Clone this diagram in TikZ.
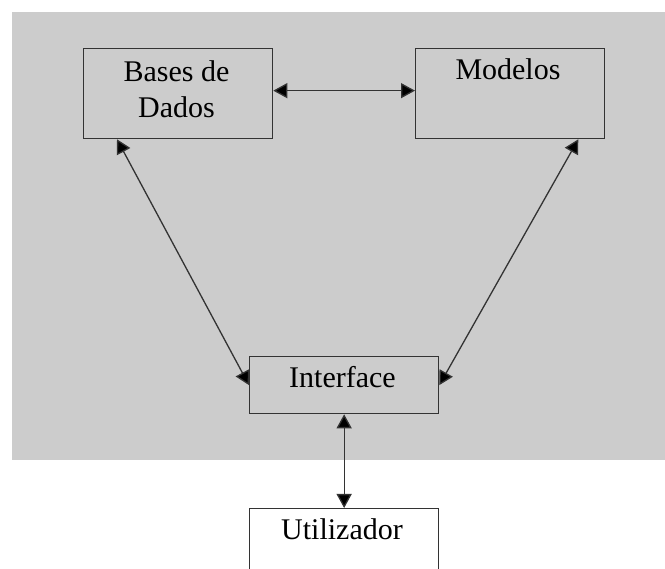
\documentclass[tikz,border=0pt]{standalone}
\usepackage{fontspec}
\setmainfont{Liberation Serif}
\usetikzlibrary{arrows.meta,calc}
\definecolor{panel}{HTML}{CCCCCC}
\definecolor{ink}{HTML}{333333}
\begin{document}
\begin{tikzpicture}[x=1pt,y=-1pt,
 box/.style={draw=ink,line width=1.3pt,minimum width=189pt,inner sep=0pt,anchor=north west},
 lbl/.style={font=\fontsize{30}{36}\selectfont,inner sep=0pt,align=center,text=black},
 link/.style={draw=ink,line width=1.3pt,{Triangle[length=14pt,width=15pt,fill=black]}-{Triangle[length=14pt,width=15pt,fill=black]}}]
\useasboundingbox (0,0) rectangle (665,569);
\clip (0,0) rectangle (665,569);
\fill[white] (0,0) rectangle (665,569);
\fill[panel] (12,12) rectangle (666,460);
\node[box,minimum height=90pt] (bd) at (83,48) {};
\node[box,minimum height=90pt] (mod) at (415,48) {};
\node[box,minimum height=57pt] (intf) at (249,356) {};
\node[box,minimum height=90pt,fill=white] (user) at (249,508) {};
\node[lbl,anchor=north] (bdt) at (176.5,60.5) {Bases de\\Dados};
\node[lbl,anchor=base] (modt) at (508,80) {Modelos};
\node[lbl,anchor=base] (intft) at (342.5,388) {Interface};
\node[lbl,anchor=base] (usert) at (342,540) {Utilizador};
\draw[link] ($(bd.east)+(0,-3)$) -- ($(mod.west)+(0,-3)$);
\draw[link] ($(bd.south west)+(34,0)$) -- (intf.west);
\draw[link] ($(mod.south east)+(-27,0)$) -- (intf.east);
\draw[link] (intf.south) -- (user.north);
\end{tikzpicture}
\end{document}
